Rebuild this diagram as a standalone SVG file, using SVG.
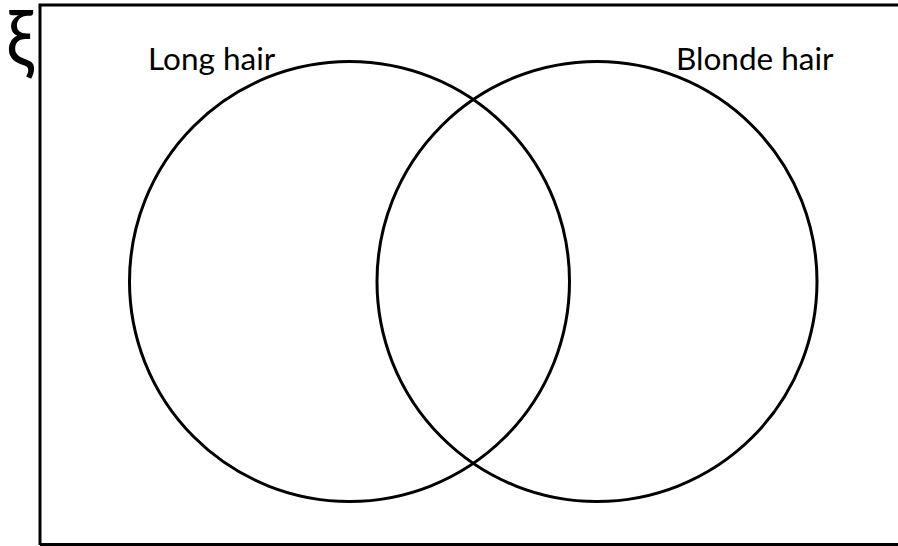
<svg xmlns="http://www.w3.org/2000/svg" width="898" height="546" viewBox="0 0 898 546">
<style>
.set{fill:none;stroke:#000;stroke-width:3}
.lbl{font-family:Lato,"Liberation Sans",sans-serif;font-size:31.5px;fill:#000}
</style>
<rect width="898" height="546" fill="#fff"/>
<g id="universe">
<path d="M40 545 V5 H900" fill="none" stroke="#000" stroke-width="3"/>
<line x1="40" y1="544.5" x2="900" y2="544.5" stroke="#000" stroke-width="3"/>
<text transform="translate(6 66) scale(0.92 1)" font-family="Lato,'DejaVu Sans',sans-serif" font-size="77">ξ</text>
</g>
<g id="long-hair">
<circle class="set" cx="349.5" cy="281.5" r="220"/>
<text class="lbl" x="148" y="70">Long hair</text>
</g>
<g id="blonde-hair">
<circle class="set" cx="597" cy="281.5" r="220"/>
<text class="lbl" x="676" y="70">Blonde hair</text>
</g>
<g id="connectors"/>
</svg>
